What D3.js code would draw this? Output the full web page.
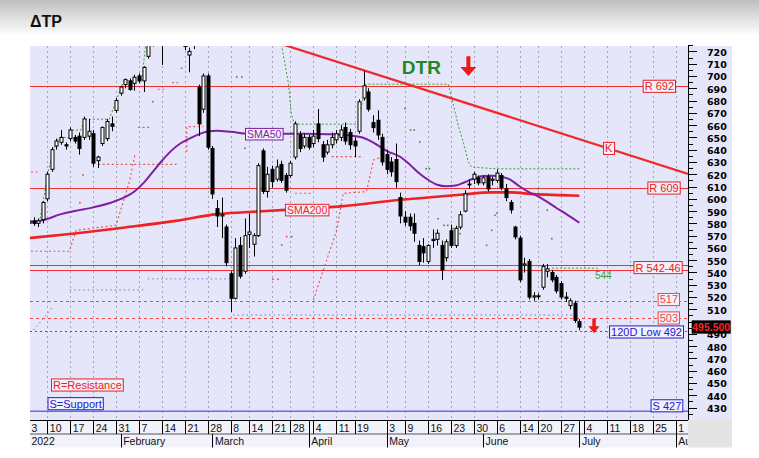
<!DOCTYPE html>
<html><head><meta charset="utf-8">
<script src="https://cdn.jsdelivr.net/npm/d3@7"></script>
<style>html,body{margin:0;padding:0;background:#fff;}svg{display:block;font-family:Arial,"Liberation Sans",sans-serif;}</style>
</head><body><svg id="c" width="759" height="458"></svg>
<script>
// ---------------- DATA ----------------
const opens  = [580,582,580,583,600,624,643,646,644,649,650,651,650,651,653,631,645,649,661,672,
686,693,696,694,700,696,716,728,735,730,728,740,742,735,724,717,725,691,673,700,
641,592,586,577,539,519,562,541,571,563,570,639,606,624,616,628,619,619,634,652,
643,650,645,661,644,638,644,648,650,658,654,647,655,682,687,662,664,650,636,630,
632,601,585,585,580,562,561,549,566,567,562,552,574,562,577,590,612,616,617,613,
618,615,615,619,608,597,577,568,546,549,520,521,528,541,540,536,531,520,513,515,500];
const highs  = [584,585,584,598,622,642,649,656,646,658,652,654,667,665,656,635,659,665,667,682,
692,698,698,701,702,708,728,740,742,735,745,748,746,738,729,723,730,693,702,702,
643,599,601,579,541,568,569,584,588,572,629,641,626,627,632,631,621,631,663,655,
653,652,656,673,647,648,654,656,660,662,657,650,681,704,690,668,672,653,640,634,
645,605,590,588,588,566,568,563,575,575,566,567,579,578,590,607,616,622,619,619,
620,618,624,621,612,599,578,570,552,551,524,523,547,547,542,538,533,524,519,517,502];
const lows   = [576,578,577,580,598,622,640,644,640,647,645,636,648,648,626,625,643,647,655,670,
684,690,688,688,694,687,714,724,728,709,727,735,733,728,721,703,722,651,670,640,
600,577,568,545,508,518,535,539,560,553,569,604,601,609,614,613,605,617,632,638,
641,640,642,646,630,636,641,645,647,644,640,634,653,680,671,654,648,627,620,618,
609,580,578,574,565,546,548,547,560,562,534,549,560,560,575,589,608,612,611,611,
606,611,613,607,598,588,567,532,540,518,517,518,526,536,532,523,518,516,510,499,493];
const closes = [582,580,582,597,620,640,647,650,643,656,647,641,665,655,629,634,658,663,659,680,
691,697,689,699,696,707,726,735,732,727,740,742,736,731,727,720,728,661,700,642,
604,586,587,548,519,560,537,570,573,570,627,606,620,614,626,615,607,629,661,641,
650,642,651,649,634,644,650,653,656,647,644,643,679,692,673,658,652,630,624,622,
614,586,581,578,572,549,556,562,567,572,542,565,562,576,587,604,612,620,613,617,
608,616,621,609,601,591,569,534,547,520,521,521,545,543,534,525,520,519,517,501,495.5];

// moving averages: [trading-day index, value]
const sma50  = [[0,581],[3,582.5],[7,587.5],[10,590],[14,593],[18,597],[21,601.5],[23,606],[25,613],[27,622],
[29,631],[31,639],[33,645],[35,649],[37,652.5],[39,654.8],[41,655.3],[44,654.5],[48,653],[52,652.8],[56,653],
[60,653],[65,652.6],[70,651.5],[73,649.5],[75,646],[78,639],[81,634],[83,628],[85,621],[87,615.5],[89,611.5],
[91,610.3],[93,610.8],[95,613.5],[97,616.5],[99,618.5],[101,618.8],[103,618],[105,615.5],[107,610],[109,605.5],
[111,602],[113,597.5],[115,592.5],[117,588],[120,580.5]];
const sma200 = [[0,568],[10,571.8],[21,576.7],[32,582],[41,587.5],[47,589],[56,591],[62,592.5],[68,593.8],
[81,599.2],[87,601.1],[94,603.3],[101,605.2],[105,605.2],[110,603.8],[116,603],[120,602.5]];

// trailing stops / dotted indicator lines: [index, value]
const greenStop = [[2.3,580.7],[3.3,602.5],[4.4,625.5],[5.5,641.8],[6.6,649.9],[8.8,649.9],[8.8,655.9],[11.3,655.9],
[12.3,664.8],[17.5,664.8],[20.4,693.3],[20.6,696],[24.6,696],[25.7,735],[54.6,735],[56.6,693.3],[57.2,669],
[57.9,660.8],[71.8,660.8],[73.4,693.3],[91.4,693.3],[92.2,681.4],[93.6,659.6],[94.7,646.1],[95.8,629.9],
[96.5,625.8],[101.9,624.4],[120,624.4]];
const greenLevel = [[114,543.5],[124,543.5]];
const redStops = [
  [[0.45,557.3],[8.8,557.3],[10.3,574.4],[19,578.5],[22,615.3],[23.1,635.7]],
  [[15.1,628.1],[32.2,628.1]],
  [[23.8,658.2],[26.4,658.2]],
  [[28.1,689.2],[30.1,689.2]],
  [[31.2,694.5],[32.5,694.5]],
  [[0.45,621.8],[2.2,621.8]],
  [[34.4,638.4],[34.4,658.7],[38,658.7]],
  [[58,604.5],[61.6,604.5]],
  [[62,517.6],[67.1,574.6],[68.5,604.5],[73.6,605.8],[75.1,631.6],[79,637]],
  [[66,634.3],[72.9,634.3]],
  [[90.7,541.8],[106.4,541.8]]
];
const redDots = [[11.8,619.4],[11.1,596.8],[27,679],[33.3,706.3],[47.1,641.1],[55.1,562.4],[56.2,569.2],[57.3,569.2],
[53.2,534.5],[54.3,534.5],[99.8,562.2],[100.9,574.4],[101.6,586.6],[102,588.2]];
const greenDots = [[45.3,699.2],[46.4,699.2],[82,673.4],[83.2,656],[84,656],[85.2,646.3],[86.6,624.5],[87.3,624.5],
[89.2,583.8],[90.5,578.4],[91.3,578.4],[92.5,575.7],[94,571.6],[111,608.2],[113,590.7],[114,567.5]];
const blueStops = [
  [[1,493.2],[5.3,512.2]],
  [[8.9,525.8],[25.3,525.8]],
  [[25.9,534.8],[43.8,534.8]],
  [[44.5,505.4],[120,505.4]]
];

// trend line K
const trendK = [[50,732],[143.7,620.3]];

// levels
const resSolid = [692,609,546,542];
const resDashed = [517,503];
const lowLevel = 492;
const supLevel = 427;
const lastPrice = 495.5;

// axis labels (500 is fully hidden behind the last-price tag in the original)
const yTicks = d3.range(430,721,10).filter(v=>v!==500);
const weekLbl = ["3","10","17","24","31","7","14","21","28","8","14","21","28","4","11","19","3","9","16","23","30","6","14","20","27","4","11","18","25","1"];
const weekIdx = [0,4,9,14,19,24,29,34,39,44,48,53,57,62,67,71,78,82,87,92,97,102,107,111,116,121,126,131,136,141];
const monthLbl = ["2022","February","March","April","May","June","July","August"];
const monthIdx = [0,20,40,61,78,99,120,141];

// ---------------- DRAW ----------------
const W=759,H=458, PL=30, PR=688, PT=46, PB=420;
const x = d3.scaleLinear().domain([0,141]).range([28.95,675.7]);
const y = d3.scaleLinear().domain([427,720]).range([411.3,51.4]);
const svg = d3.select('#c');
const defs = svg.append('defs');
const gr = defs.append('linearGradient').attr('id','hdr').attr('x1',0).attr('y1',0).attr('x2',0).attr('y2',1);
gr.append('stop').attr('offset','0%').attr('stop-color','#bfbfbf');
gr.append('stop').attr('offset','100%').attr('stop-color','#ffffff');
defs.append('clipPath').attr('id','plot').append('rect').attr('x',PL).attr('y',PT).attr('width',PR-PL).attr('height',PB-PT);
defs.append('clipPath').attr('id','xax').append('rect').attr('x',PL).attr('y',PB).attr('width',PR-PL).attr('height',30);

svg.append('rect').attr('width',W).attr('height',H).attr('fill','#fff');
svg.append('rect').attr('width',W).attr('height',36).attr('fill','url(#hdr)');
svg.append('text').attr('x',30).attr('y',26.5).attr('font-size',16).attr('font-weight','bold').attr('fill','#111').text('ΔTP');

// panels
svg.append('rect').attr('x',PL).attr('y',PT).attr('width',732-PL).attr('height',PB-PT).attr('fill','#e6e6fa');
svg.append('rect').attr('x',PL).attr('y',PB).attr('width',PR-PL).attr('height',27.5).attr('fill','#f2f2fb');
svg.append('rect').attr('x',PR).attr('y',PB).attr('width',732-PR).attr('height',27.5).attr('fill','#e4e4e4');

const plot = svg.append('g').attr('clip-path','url(#plot)');

// vertical grid
plot.selectAll('line.grid').data(weekIdx).join('line').attr('class','grid')
  .attr('x1',d=>Math.round(x(d))+0.5).attr('x2',d=>Math.round(x(d))+0.5).attr('y1',PT).attr('y2',PB)
  .attr('stroke','#a4a4b4').attr('stroke-width',1).attr('stroke-dasharray','2,3');

// horizontal levels
const hy = v => Math.round(y(v))+0.5;
plot.selectAll('line.res').data(resSolid).join('line').attr('class','res')
  .attr('x1',PL).attr('x2',PR).attr('y1',hy).attr('y2',hy)
  .attr('stroke','#f03030').attr('stroke-width',1);
plot.selectAll('line.resd').data(resDashed).join('line').attr('class','resd')
  .attr('x1',PL).attr('x2',PR).attr('y1',hy).attr('y2',hy)
  .attr('stroke','#f04848').attr('stroke-width',1).attr('stroke-dasharray','3,3');
plot.append('line').attr('x1',PL).attr('x2',PR).attr('y1',hy(lowLevel)).attr('y2',hy(lowLevel))
  .attr('stroke','#4a4ae0').attr('stroke-width',1.2).attr('stroke-dasharray','2,3');
plot.append('line').attr('x1',PL).attr('x2',PR).attr('y1',y(supLevel)).attr('y2',y(supLevel))
  .attr('stroke','#6a6af0').attr('stroke-width',1.5);

// dotted indicator lines
const line = d3.line().x(d=>x(d[0])).y(d=>y(d[1]));
plot.selectAll('path.bs').data(blueStops).join('path').attr('class','bs').attr('d',line)
  .attr('fill','none').attr('stroke','#7a72d8').attr('stroke-width',1).attr('stroke-dasharray','1.5,3');
plot.selectAll('path.rs').data(redStops).join('path').attr('class','rs').attr('d',line)
  .attr('fill','none').attr('stroke','#e85858').attr('stroke-width',1.2).attr('stroke-dasharray','2,2.5');
plot.append('path').attr('d',line(greenStop)).attr('fill','none').attr('stroke','#3c9a3c').attr('stroke-width',1).attr('stroke-dasharray','2,2');
plot.append('path').attr('d',line(greenLevel)).attr('fill','none').attr('stroke','#5a9a3c').attr('stroke-width',1).attr('stroke-dasharray','2,2');
plot.selectAll('rect.rd').data(redDots).join('rect').attr('class','rd')
  .attr('x',d=>x(d[0])-0.8).attr('y',d=>y(d[1])-0.8).attr('width',1.6).attr('height',1.6).attr('fill','#e04848');
plot.selectAll('rect.gd').data(greenDots).join('rect').attr('class','gd')
  .attr('x',d=>x(d[0])-0.8).attr('y',d=>y(d[1])-0.8).attr('width',1.6).attr('height',1.6).attr('fill','#3a8a3a');

// moving averages
const curve = d3.line().x(d=>x(d[0])).y(d=>y(d[1])).curve(d3.curveMonotoneX);
plot.append('path').attr('d',curve(sma200)).attr('fill','none').attr('stroke','#ee2222').attr('stroke-width',2.6);
plot.append('path').attr('d',curve(sma50)).attr('fill','none').attr('stroke','#7d1fa0').attr('stroke-width',2);

// trend line
plot.append('path').attr('d',line(trendK)).attr('fill','none').attr('stroke','#f02828').attr('stroke-width',2.2);

// candles
const idx = d3.range(opens.length);
const cg = plot.append('g');
cg.selectAll('line.wick').data(idx).join('line').attr('class','wick')
  .attr('x1',i=>Math.round(x(i))+0.5).attr('x2',i=>Math.round(x(i))+0.5)
  .attr('y1',i=>y(highs[i])).attr('y2',i=>y(lows[i])).attr('stroke','#000').attr('stroke-width',1);
cg.selectAll('rect.body').data(idx).join('rect').attr('class','body')
  .attr('x',i=>Math.round(x(i))-1)
  .attr('y',i=>y(Math.max(opens[i],closes[i])))
  .attr('width',3)
  .attr('height',i=>Math.max(0.8,Math.abs(y(opens[i])-y(closes[i]))))
  .attr('fill',i=>closes[i]>=opens[i]?'#fff':'#000')
  .attr('stroke','#000').attr('stroke-width',1);

// label helper
function tag(txt, xr, cy, col, fs, anchor, fill){
  const g = svg.append('g');
  const t = g.append('text').attr('font-size',fs).attr('fill',col).attr('y',cy).attr('dy','0.36em').text(txt);
  if(anchor==='end'){ t.attr('text-anchor','end').attr('x',xr-2); }
  else if(anchor==='middle'){ t.attr('text-anchor','middle').attr('x',xr); }
  else { t.attr('x',xr+2); }
  const bb = t.node().getBBox();
  g.insert('rect','text').attr('x',bb.x-1.5).attr('y',cy-fs*0.55).attr('width',bb.width+3).attr('height',fs*1.1)
   .attr('fill',fill||'#f3f0fb').attr('stroke',col).attr('stroke-width',1);
  return g;
}
tag('SMA50', 245, y(652.6), '#7d1fa0', 10.5, 'start');
tag('SMA200', 285, y(590.8), '#ee2222', 10.5, 'start');
tag('R 692', 676, y(692)+0.5, '#e82020', 11, 'end');
tag('R 609', 680.7, y(609)+0.3, '#e82020', 11, 'end');
tag('R 542-46', 682.7, y(544), '#e82020', 11, 'end');
tag('517', 680, y(518), '#f04848', 11, 'end');
tag('503', 680, y(503), '#f04848', 11, 'end');
tag('120D Low 492', 684, y(lowLevel)+0.5, '#2020d0', 11, 'end');
tag('S 427', 683.3, y(supLevel)-5.5, '#2020d0', 11, 'end');
tag('K', x(126.4), y(641), '#e82020', 11, 'middle');
tag('R=Resistance', 51, 385, '#e82020', 11, 'start');
tag('S=Support', 47.5, 403.7, '#2020d0', 11, 'start');

// annotations
svg.append('text').attr('x',x(81.3)).attr('y',y(701.5)).attr('font-size',19).attr('font-weight','bold').attr('fill','#1e8a1e').text('DTR');
function arrow(cx, top, bot, sw, hw, hh){
  const p = d3.path();
  p.moveTo(cx-sw/2,top); p.lineTo(cx+sw/2,top); p.lineTo(cx+sw/2,bot-hh); p.lineTo(cx+hw/2,bot-hh);
  p.lineTo(cx,bot); p.lineTo(cx-hw/2,bot-hh); p.lineTo(cx-sw/2,bot-hh); p.closePath();
  svg.append('path').attr('d',p.toString()).attr('fill','#f01818');
}
arrow(x(95.8), y(716), y(700), 4, 16, 9);
arrow(x(123.2), y(502.5), y(490.5), 3.5, 11, 7);
svg.append('text').attr('x',x(123.4)).attr('y',y(535)).attr('font-size',10).attr('fill','#3c9a3c').text('544');

// right axis
const ax = svg.append('g');
ax.append('line').attr('x1',PR+0.5).attr('x2',PR+0.5).attr('y1',PT).attr('y2',PB).attr('stroke','#000');
ax.selectAll('line.tk').data(d3.range(425,726,5)).join('line').attr('class','tk')
  .attr('x1',PR).attr('x2',d=>d%10===0?PR+9:PR+5).attr('y1',d=>Math.round(y(d))+0.5).attr('y2',d=>Math.round(y(d))+0.5)
  .attr('stroke','#000');
ax.selectAll('text.yl').data(yTicks).join('text').attr('class','yl')
  .attr('x',707).attr('y',d=>y(d)+1).attr('dy','0.36em')
  .attr('font-family','"DejaVu Sans",sans-serif').attr('font-weight','bold').attr('font-size',9.5).attr('fill','#000').text(d=>d);
// last price tag (drawn over the 490 label, as in the original)
ax.append('rect').attr('x',691.7).attr('y',y(lastPrice)-6.8).attr('width',39).attr('height',13.3).attr('fill','#000');
ax.append('text').attr('x',711.2).attr('y',y(lastPrice)).attr('dy','0.36em').attr('text-anchor','middle')
  .attr('font-weight','bold').attr('font-size',10.5).attr('fill','#ff2020').text(d3.format('.3f')(lastPrice));

// x axis rows
const xa = svg.append('g').attr('clip-path','url(#xax)');
xa.append('line').attr('x1',PL).attr('x2',PR).attr('y1',420.5).attr('y2',420.5).attr('stroke','#000');
xa.append('line').attr('x1',PL).attr('x2',PR).attr('y1',434).attr('y2',434).attr('stroke','#555');
xa.selectAll('line.wk').data(weekIdx).join('line').attr('class','wk')
  .attr('x1',d=>Math.round(x(d))+0.5).attr('x2',d=>Math.round(x(d))+0.5).attr('y1',420.5).attr('y2',434).attr('stroke','#000');
xa.selectAll('text.wk').data(weekIdx).join('text').attr('class','wk')
  .attr('x',d=>x(d)+2.5).attr('y',431.5).attr('font-size',10.5).attr('fill','#111').text((d,i)=>weekLbl[i]);
monthIdx.forEach((m,k)=>{
  const mx = Math.round(x(m))+0.5;
  xa.append('line').attr('x1',mx).attr('x2',mx).attr('y1',434).attr('y2',447.5).attr('stroke','#000');
  const collide = weekIdx.some(w=> x(m)>=x(w)-0.5 && x(m)<x(w)+14);
  if(!collide) xa.append('line').attr('x1',mx).attr('x2',mx).attr('y1',420.5).attr('y2',434).attr('stroke','#000');
  xa.append('text').attr('x',x(m)+2.5).attr('y',445).attr('font-size',10.5).attr('fill','#111').text(monthLbl[k]);
});
</script></body></html>
